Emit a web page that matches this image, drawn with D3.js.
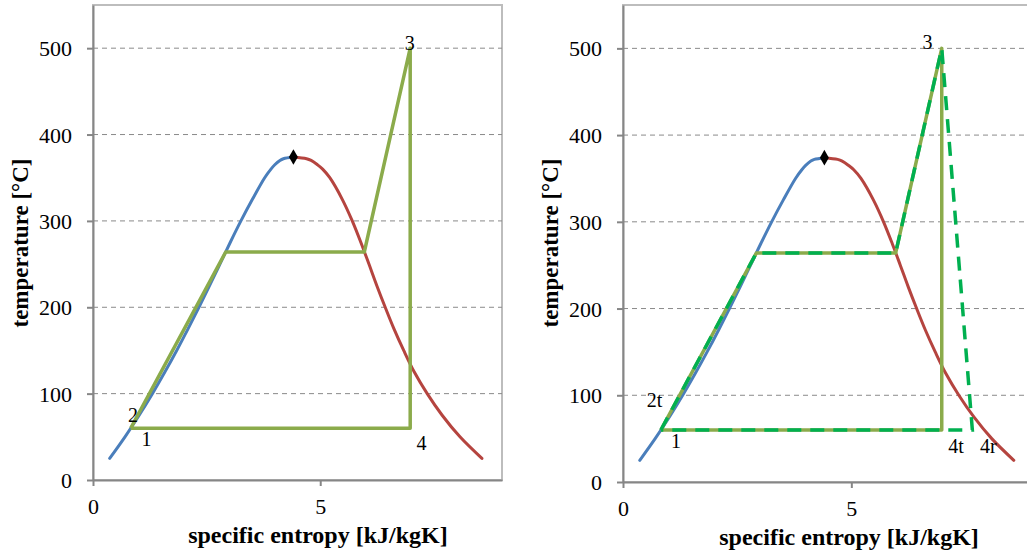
<!DOCTYPE html>
<html>
<head>
<meta charset="utf-8">
<script src="https://cdn.jsdelivr.net/npm/d3@7"></script>
<style>
  body { margin: 0; background: #fff; }
  svg { display: block; }
</style>
</head>
<body>
<div id="chart"></div>
<script>
// saturation dome of water (T in °C, s in kJ/kgK)
let tempSat = [25, 50, 75, 100, 125, 150, 175, 200, 225, 250, 275, 300, 325, 350, 360, 365, 370, 372, 374];
let sLiquid = [0.367, 0.704, 1.016, 1.307, 1.581, 1.842, 2.091, 2.331, 2.565, 2.793, 3.019, 3.255, 3.508, 3.778, 3.916, 4.00, 4.113, 4.19, 4.41];
let sVapor = [8.558, 8.075, 7.683, 7.354, 7.070, 6.837, 6.623, 6.430, 6.246, 6.072, 5.895, 5.705, 5.485, 5.211, 5.053, 4.94, 4.800, 4.70, 4.41];
let critical = {s: 4.41, t: 374};

// ideal Rankine cycle 1-2-(sat liq)-(sat vap)-3-4-1
let cycleS = [0.83, 0.85, 2.92, 5.97, 6.98, 6.98, 0.83];
let cycleT = [60, 62, 264, 264, 500, 60, 60];

// real cycle with irreversible turbine (3 -> 4r)
let realS = [0.83, 0.85, 2.92, 5.97, 6.98, 7.65, 0.83];
let realT = [60, 62, 264, 264, 500, 60, 60];

let yTicks = [0, 100, 200, 300, 400, 500];
let xTicks = [0, 5];

let leftLabels = [
  {text: "1", s: 1.18, t: 47},
  {text: "2", s: 0.88, t: 75},
  {text: "3", s: 6.97, t: 506},
  {text: "4", s: 7.23, t: 43}
];
let rightLabels = [
  {text: "2t", s: 0.69, t: 95},
  {text: "1", s: 1.16, t: 47},
  {text: "3", s: 6.67, t: 507},
  {text: "4t", s: 7.29, t: 42},
  {text: "4r", s: 8.0, t: 42}
];

let serif = "Liberation Serif, DejaVu Serif, serif";

let svgWidth = 1027;
let svgHeight = 556;

let svg = d3.select("#chart")
  .append("svg")
  .attr("width", svgWidth)
  .attr("height", svgHeight);

function drawPanel(left, top, width, height, labels, withReal) {
  let g = svg.append("g")
    .attr("transform", `translate(${left}, ${top})`);

  let x = d3.scaleLinear().domain([0, 9]).range([0, width]);
  let y = d3.scaleLinear().domain([0, 550]).range([height, 0]);

  // plot area border
  g.append("rect")
    .attr("x", 0).attr("y", 0)
    .attr("width", width).attr("height", height)
    .attr("fill", "none")
    .attr("stroke", "#bdbdbd")
    .attr("stroke-width", 2);

  // gridlines
  g.selectAll(".grid")
    .data(yTicks.filter(d => d > 0))
    .enter()
    .append("line")
    .attr("x1", 0).attr("x2", width)
    .attr("y1", d => y(d)).attr("y2", d => y(d))
    .attr("stroke", "#8a8a8a")
    .attr("stroke-width", 1)
    .attr("stroke-dasharray", "5,4");

  let yAxis = g.append("g")
    .call(d3.axisLeft(y).tickValues(yTicks).tickSize(6).tickSizeOuter(0).tickPadding(15));
  let xAxis = g.append("g")
    .attr("transform", `translate(0, ${height})`)
    .call(d3.axisBottom(x).tickValues(xTicks).tickSize(6).tickSizeOuter(0).tickPadding(12));

  [yAxis, xAxis].forEach(a => {
    a.attr("font-family", serif).attr("font-size", 22);
    a.selectAll("path, line").attr("stroke", "#868686").attr("stroke-width", 2);
    a.selectAll("text").attr("fill", "#000");
  });
  yAxis.selectAll("text").attr("dy", "0.34em");

  // axis titles
  g.append("text")
    .attr("transform", "rotate(-90)")
    .attr("x", -238)
    .attr("y", -65)
    .attr("text-anchor", "middle")
    .attr("font-family", serif)
    .attr("font-size", 23)
    .attr("font-weight", "bold")
    .text("temperature [°C]");

  g.append("text")
    .attr("x", x(4.95))
    .attr("y", height + 63)
    .attr("text-anchor", "middle")
    .attr("font-family", serif)
    .attr("font-size", 24)
    .attr("font-weight", "bold")
    .text("specific entropy [kJ/kgK]");

  let line = d3.line().x(d => x(d[0])).y(d => y(d[1]));
  let smooth = d3.line().x(d => x(d[0])).y(d => y(d[1])).curve(d3.curveCatmullRom.alpha(0.5));

  // saturated liquid and vapour curves
  g.append("path")
    .datum(sLiquid.map((s, i) => [s, tempSat[i]]))
    .attr("d", smooth)
    .attr("fill", "none")
    .attr("stroke", "#4a7ebb")
    .attr("stroke-width", 3)
    .attr("stroke-linecap", "round");

  g.append("path")
    .datum(sVapor.map((s, i) => [s, tempSat[i]]))
    .attr("d", smooth)
    .attr("fill", "none")
    .attr("stroke", "#b5443f")
    .attr("stroke-width", 3)
    .attr("stroke-linecap", "round");

  // ideal cycle
  g.append("path")
    .datum(cycleS.map((s, i) => [s, cycleT[i]]))
    .attr("d", line)
    .attr("fill", "none")
    .attr("stroke", "#8bab4b")
    .attr("stroke-width", 3.5)
    .attr("stroke-linejoin", "round");

  if (withReal) {
    g.append("path")
      .datum(realS.map((s, i) => [s, realT[i]]))
      .attr("d", line)
      .attr("fill", "none")
      .attr("stroke", "#00b050")
      .attr("stroke-width", 3.5)
      .attr("stroke-dasharray", "14,9");
  }

  // critical point
  g.append("path")
    .attr("d", d3.symbol().type(d3.symbolDiamond).size(70))
    .attr("transform", `translate(${x(critical.s)}, ${y(critical.t)})`)
    .attr("fill", "#000");

  g.selectAll(".pt-label")
    .data(labels)
    .enter()
    .append("text")
    .attr("x", d => x(d.s))
    .attr("y", d => y(d.t))
    .attr("dy", "0.35em")
    .attr("text-anchor", "middle")
    .attr("font-family", serif)
    .attr("font-size", 20)
    .text(d => d.text);
}

drawPanel(93, 5, 409, 475, leftLabels, false);
drawPanel(623, 5, 411, 477, rightLabels, true);
</script>
</body>
</html>
